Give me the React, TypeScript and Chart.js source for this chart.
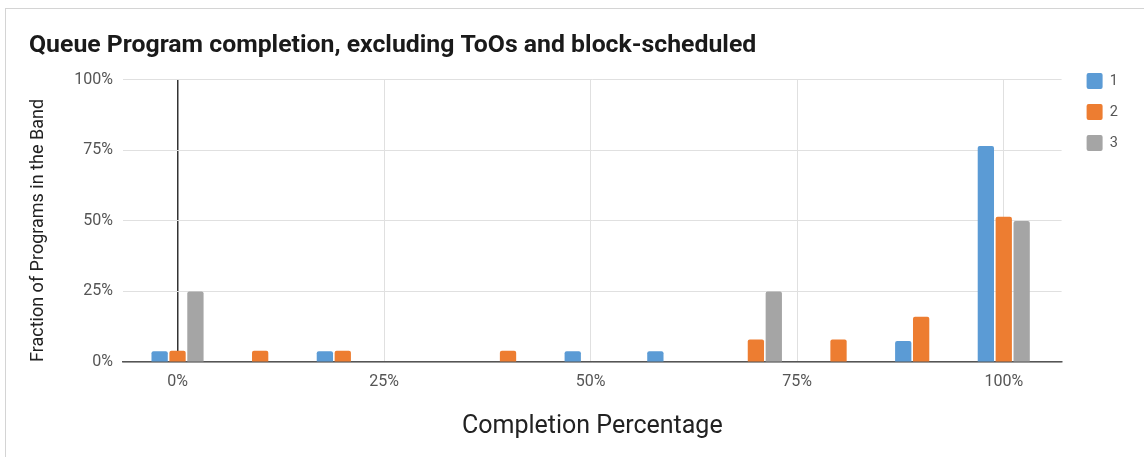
import React, { useEffect, useRef } from 'react';
import { Chart, registerables } from 'chart.js';

Chart.register(...registerables);

// ---- data ----
const completionPct = [0, 10, 20, 30, 40, 50, 60, 70, 80, 90, 100];
const series1 = [3.85, 0, 3.85, 0, 0, 3.85, 3.85, 0, 0, 7.4, 76.5];
const series2 = [4, 4, 4, 0, 4, 0, 0, 8, 8, 16, 51.5];
const series3 = [25, 0, 0, 0, 0, 0, 0, 25, 0, 0, 50];
const seriesNames = ['1', '2', '3'];
const seriesColors = ['#5B9BD5', '#ED7D31', '#A5A5A5'];
const xTickValues = [0, 25, 50, 75, 100];
const yTickValues = [0, 25, 50, 75, 100];

const chartTitle = 'Queue Program completion, excluding ToOs and block-scheduled';
const xTitle = 'Completion Percentage';
const yTitle = 'Fraction of Programs in the Band';

const W = 1144;
const H = 457;

export default function App() {
  const ref = useRef<HTMLCanvasElement | null>(null);

  useEffect(() => {
    if (!ref.current) return;
    Chart.defaults.font.family = 'Roboto';
    const allSeries = [series1, series2, series3];
    const datasets = allSeries.map((s, k) => ({
      label: seriesNames[k],
      data: completionPct.map((x, i) => ({ x, y: s[i] === 0 ? null : s[i] })),
      backgroundColor: seriesColors[k],
      borderWidth: 0,
      borderRadius: 2,
      categoryPercentage: 0.65,
      barPercentage: 0.91,
    }));

    const chart = new Chart(ref.current, {
      type: 'bar',
      data: { datasets },
      options: {
        animation: false,
        responsive: false,
        devicePixelRatio: 1,
        layout: { padding: { top: 10, left: 29, right: 16, bottom: 10 } },
        plugins: {
          title: {
            display: true,
            text: chartTitle,
            align: 'start',
            color: '#1a1a1a',
            font: { size: 24.8, weight: 'bold' },
            padding: { top: 21, bottom: 19 },
          },
          legend: {
            display: true,
            position: 'right',
            align: 'start',
            title: { display: true, text: '', font: { size: 10 }, padding: 18 },
            labels: {
              boxWidth: 16,
              boxHeight: 16,
              padding: 15,
              color: '#555',
              font: { size: 14.5 },
              useBorderRadius: true,
              borderRadius: 2,
            },
          },
          tooltip: { enabled: false },
        },
        scales: {
          x: {
            type: 'linear',
            min: -6.6,
            max: 107,
            offset: false,
            afterBuildTicks: (s: any) => {
              s.ticks = xTickValues.map((v) => ({ value: v }));
            },
            grid: {
              offset: false,
              drawTicks: false,
              color: (c: any) => (c.tick && c.tick.value === 0 ? '#333' : '#e0e0e0'),
              lineWidth: (c: any) => (c.tick && c.tick.value === 0 ? 1.5 : 1),
            },
            border: { display: true, color: '#555', width: 1.5 },
            ticks: {
              callback: (v: any) => v + '%',
              padding: 10,
              color: '#555',
              font: { size: 16 },
              autoSkip: false,
              maxRotation: 0,
            },
            title: {
              display: true,
              text: xTitle,
              color: '#222',
              font: { size: 25 },
              padding: { top: 0, bottom: 5 },
            },
            afterFit: (s: any) => {
              s.height = 85;
            },
          },
          y: {
            min: 0,
            max: 100,
            afterBuildTicks: (s: any) => {
              s.ticks = yTickValues.map((v) => ({ value: v }));
            },
            grid: { color: '#e0e0e0', drawTicks: false },
            border: { display: false },
            ticks: {
              callback: (v: any) => v + '%',
              padding: 10,
              color: '#555',
              font: { size: 16 },
            },
            title: {
              display: true,
              text: yTitle,
              align: 'start',
              color: '#222',
              font: { size: 18, lineHeight: 1 },
              padding: { top: 0, bottom: 0 },
            },
            afterFit: (s: any) => {
              s.width = 94;
            },
          },
          gap: {
            type: 'linear',
            position: 'right',
            display: true,
            grid: { display: false, drawTicks: false },
            border: { display: false },
            ticks: { display: false },
            afterFit: (s: any) => {
              s.width = 10;
            },
          },
        },
      } as any,
    });
    return () => chart.destroy();
  }, []);

  return (
    <div style={{ position: 'fixed', left: 0, top: 0, width: W, height: H, background: '#fff', overflow: 'hidden' }}>
      <div
        style={{
          position: 'absolute',
          left: 5,
          top: 8,
          width: W + 20,
          height: H + 20,
          border: '1px solid #d4d4d4',
          boxSizing: 'border-box',
        }}
      />
      <canvas ref={ref} width={W} height={H} style={{ position: 'absolute', left: 0, top: 0 }} />
    </div>
  );
}
